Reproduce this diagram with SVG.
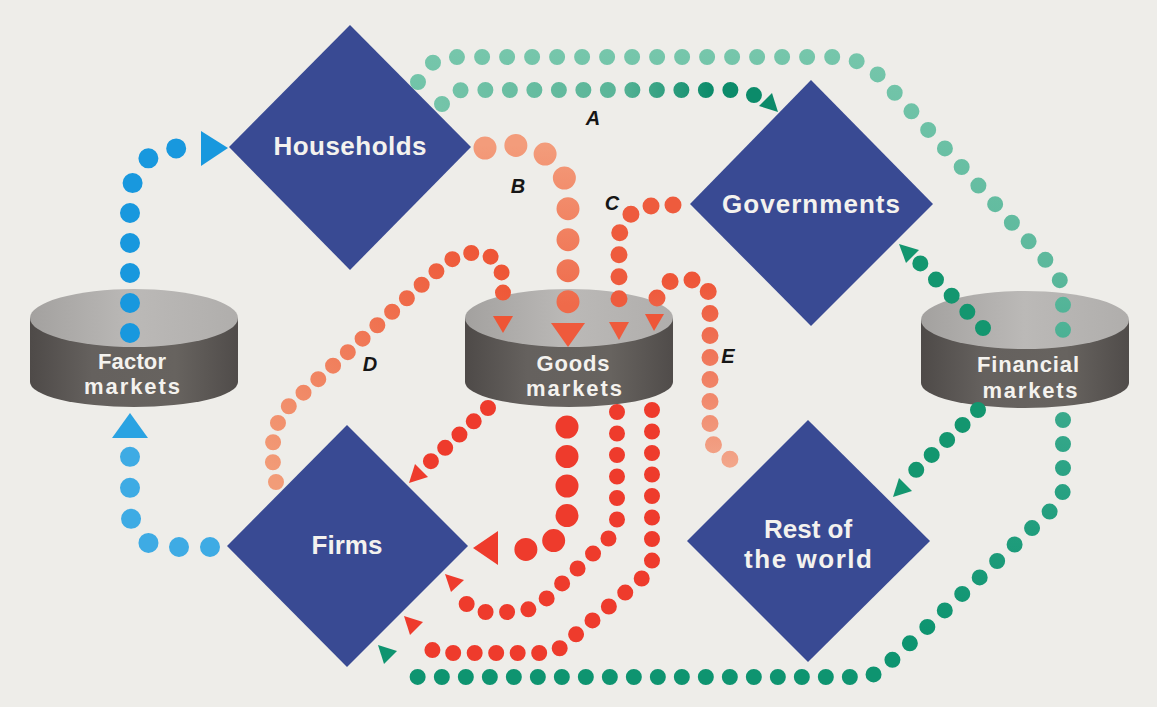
<svg xmlns="http://www.w3.org/2000/svg" width="1157" height="707" viewBox="0 0 1157 707">
<defs>
<linearGradient id="cylTop" x1="0" y1="0" x2="1" y2="0"><stop offset="0" stop-color="#a3a19f"/><stop offset="0.5" stop-color="#bbb9b7"/><stop offset="1" stop-color="#b0aeac"/></linearGradient>
<linearGradient id="cylBody" x1="0" y1="0" x2="1" y2="0"><stop offset="0" stop-color="#4e4a48"/><stop offset="0.3" stop-color="#65615e"/><stop offset="0.7" stop-color="#67635f"/><stop offset="1" stop-color="#504c4a"/></linearGradient>
<linearGradient id="gTop" gradientUnits="userSpaceOnUse" x1="0" y1="50" x2="0" y2="680"><stop offset="0" stop-color="#76c6ab"/><stop offset="0.35" stop-color="#5cb89c"/><stop offset="0.65" stop-color="#2ea486"/><stop offset="0.92" stop-color="#0e9470"/></linearGradient>
<linearGradient id="gA" gradientUnits="userSpaceOnUse" x1="440" y1="0" x2="760" y2="0"><stop offset="0" stop-color="#74c4a9"/><stop offset="0.55" stop-color="#5ab598"/><stop offset="0.85" stop-color="#0c8b6a"/></linearGradient>
<linearGradient id="rB" gradientUnits="userSpaceOnUse" x1="0" y1="145" x2="0" y2="305"><stop offset="0" stop-color="#f39c7b"/><stop offset="1" stop-color="#ef6a4a"/></linearGradient>
<linearGradient id="rD" gradientUnits="userSpaceOnUse" x1="275" y1="480" x2="500" y2="260"><stop offset="0" stop-color="#f29c78"/><stop offset="1" stop-color="#ee5535"/></linearGradient>
<linearGradient id="rE" gradientUnits="userSpaceOnUse" x1="0" y1="280" x2="0" y2="466"><stop offset="0" stop-color="#ee5638"/><stop offset="1" stop-color="#f2a68a"/></linearGradient>
</defs>
<style>
.dia{fill:#394a93}
.nt{font-family:"Liberation Sans",Arial,sans-serif;font-weight:bold;fill:#f4f2ee;text-anchor:middle;font-size:26px}
.ct{font-family:"Liberation Sans",Arial,sans-serif;font-weight:bold;fill:#f4f2ee;text-anchor:middle;font-size:22px}
.top{fill:url(#cylTop)}
.body{fill:url(#cylBody)}
.dot{fill:none;stroke-linecap:round}
.let{font-family:"Liberation Sans",Arial,sans-serif;font-weight:bold;font-style:italic;font-size:20px;fill:#161616;text-anchor:middle}
</style>
<rect width="1157" height="707" fill="#eeede9"/>

<g id="households"><polygon class="dia" points="350,25 471,147 350,270 229,147"/><text class="nt" x="350" y="155" textLength="153">Households</text></g>
<g id="governments"><polygon class="dia" points="811,80 933,204 811,326 690,204"/><text class="nt" x="811" y="213" textLength="178">Governments</text></g>
<g id="firms"><polygon class="dia" points="347,425 468,546 347,667 227,546"/><text class="nt" x="347" y="554">Firms</text></g>
<g id="rest-of-world"><polygon class="dia" points="808,420 930,541 808,662 687,541"/><text class="nt" x="808" y="538">Rest of</text><text class="nt" x="808" y="568" textLength="128">the world</text></g>

<g id="factor-markets"><path class="body" d="M30,318 L30,382 A104,25 0 0 0 238,382 L238,318 Z"/><ellipse class="top" cx="134" cy="318" rx="104" ry="29"/><text class="ct" x="132" y="369" textLength="68">Factor</text><text class="ct" x="132" y="394" textLength="96">markets</text></g>
<g id="goods-markets"><path class="body" d="M465,318 L465,382 A104,25 0 0 0 673,382 L673,318 Z"/><ellipse class="top" cx="569" cy="318" rx="104" ry="29"/><text class="ct" x="573" y="371" textLength="73">Goods</text><text class="ct" x="574" y="396" textLength="96">markets</text></g>
<g id="financial-markets"><path class="body" d="M921,320 L921,383 A104,25 0 0 0 1129,383 L1129,320 Z"/><ellipse class="top" cx="1025" cy="320" rx="104" ry="29"/><text class="ct" x="1028" y="372" textLength="102">Financial</text><text class="ct" x="1030" y="398" textLength="95">markets</text></g>

<g id="connectors">
<path class="dot" d="M210,547 L170,547 Q130,547 130,507 L130,450" stroke="#3eabe4" stroke-width="20" stroke-dasharray="0 31"/>
<polygon points="130,413 148,438 112,438" fill="#2aa3e2"/>
<path class="dot" d="M130,333 L130,205 Q130,150 182,148" stroke="#1898de" stroke-width="20" stroke-dasharray="0 30"/>
<polygon points="228,148 201,131 201,166" fill="#1898de"/>

<path class="dot" d="M418,82 C425,62 440,57 460,57 L830,57 C855,57 870,65 885,82 L1050,265 C1060,277 1063,285 1063,300 L1063,350" stroke="url(#gTop)" stroke-width="16" stroke-dasharray="0 25"/>
<path class="dot" d="M1063,420 L1063,488 C1063,498 1057,505 1048,513 L888,664 C880,672 872,677 860,677 L420,677 C408,677 402,673 397,667" stroke="url(#gTop)" stroke-width="16" stroke-dasharray="0 24"/>
<polygon points="378,645 397,651 384,664" fill="#0e9470"/>
<path class="dot" d="M442,104 C447,95 452,90 465,90 L735,90 C745,90 752,93 758,98" stroke="url(#gA)" stroke-width="16" stroke-dasharray="0 24.5"/>
<polygon points="778,112 759,106 772,93" fill="#0c8a69"/>
<path class="dot" d="M983,328 L918,261" stroke="#13966f" stroke-width="16" stroke-dasharray="0 22.5"/>
<polygon points="899,244 919,250 906,263" fill="#13966f"/>
<path class="dot" d="M978,410 L913,473" stroke="#13966f" stroke-width="16" stroke-dasharray="0 21.5"/>
<polygon points="893,497 912,491 899,478" fill="#13966f"/>

<path class="dot" d="M485,148 C505,146 530,140 550,158 C562,170 568,180 568,200 L568,306" stroke="url(#rB)" stroke-width="23" stroke-dasharray="0 31"/>
<polygon points="568,347 551,323 585,323" fill="#ef5a3c"/>
<path class="dot" d="M673,205 L652,206 C635,207 619,220 619,240 L619,310" stroke="#ee5b3d" stroke-width="17" stroke-dasharray="0 22"/>
<polygon points="619,340 609,322 629,322" fill="#ee5b3d"/>
<path class="dot" d="M276,482 C270,455 270,425 290,405 L440,268 C460,250 485,248 497,262 C503,270 503,280 503,300" stroke="url(#rD)" stroke-width="16" stroke-dasharray="0 20"/>
<polygon points="503,333 493,316 513,316" fill="#ee5535"/>
<path class="dot" d="M657,298 C660,285 668,280 680,280 L695,280 C705,280 710,290 710,305 L710,435 C710,445 722,456 742,466" stroke="url(#rE)" stroke-width="17" stroke-dasharray="0 22"/>
<polygon points="654,331 645,314 664,314" fill="#ee5638"/>

<path class="dot" d="M488,408 L430,462" stroke="#ee3b2c" stroke-width="16" stroke-dasharray="0 19.5"/>
<polygon points="409,483 428,477 415,464" fill="#ee3b2c"/>
<path class="dot" d="M567,427 L567,515 C567,537 548,550 515,550" stroke="#ee3b2c" stroke-width="23" stroke-dasharray="0 29.5"/>
<polygon points="473,548 498,531 498,565" fill="#ee3b2c"/>
<path class="dot" d="M617,412 L617,520 C617,530 612,535 605,542 L545,600 C535,608 525,612 510,612 L482,612 C475,612 470,608 463,600" stroke="#ee3b2c" stroke-width="16" stroke-dasharray="0 21.5"/>
<polygon points="445,574 464,580 451,592" fill="#ee3b2c"/>
<path class="dot" d="M652,410 L652,560 C652,568 648,573 640,580 L560,648 C555,652 550,653 540,653 L440,653 C432,653 428,645 423,637" stroke="#ee3b2c" stroke-width="16" stroke-dasharray="0 21.5"/>
<polygon points="404,616 423,622 410,635" fill="#ee3b2c"/>
</g>

<g id="labels">
<text class="let" x="593" y="125">A</text>
<text class="let" x="518" y="193">B</text>
<text class="let" x="612" y="210">C</text>
<text class="let" x="370" y="371">D</text>
<text class="let" x="728" y="363">E</text>
</g>
</svg>
